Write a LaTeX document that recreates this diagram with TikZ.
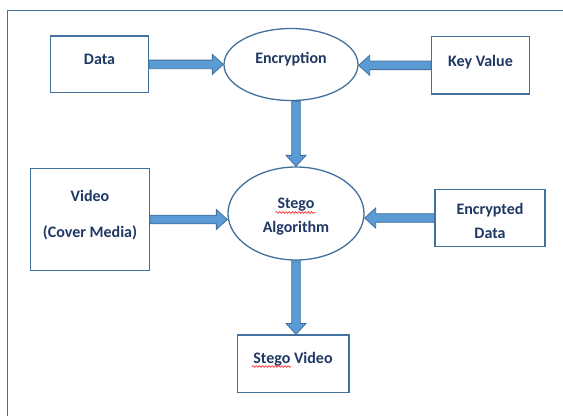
\documentclass[tikz,border=0pt]{standalone}
\usepackage{fontspec}
\setmainfont{Carlito}
\usetikzlibrary{calc,shapes.geometric,decorations.pathmorphing}

\definecolor{edgeblue}{HTML}{41719C}
\definecolor{fillblue}{HTML}{5B9BD5}
\definecolor{inkblue}{HTML}{1F3864}

% thick block arrow drawn as an outlined polygon from #1 to #2
\newcommand\blockarrow[2]{%
  \coordinate (ba-a) at (#1);
  \coordinate (ba-b) at (#2);
  \coordinate (ba-h) at ($(ba-b)!11pt!(ba-a)$);
  \draw[arrowbody]
    ($(ba-a)!4.3pt!90:(ba-b)$) -- ($(ba-h)!4.3pt!90:(ba-b)$) --
    ($(ba-h)!10pt!90:(ba-b)$) -- (ba-b) --
    ($(ba-h)!10pt!-90:(ba-b)$) -- ($(ba-h)!4.3pt!-90:(ba-b)$) --
    ($(ba-a)!4.3pt!-90:(ba-b)$) -- cycle;
}

\begin{document}
\begin{tikzpicture}[x=1pt,y=-1pt,
  txt/.style={font=\fontsize{16}{26}\selectfont\bfseries, text=inkblue, align=center, inner sep=0pt},
  box/.style={draw=edgeblue, line width=1.3pt, fill=white, inner sep=0pt},
  oval/.style={ellipse, draw=edgeblue, line width=1.3pt, fill=white, inner sep=0pt},
  arrowbody/.style={fill=fillblue, draw=edgeblue, line width=0.8pt, line join=miter},
  frame/.style={draw=edgeblue, line width=1.3pt},
  spell/.style={draw=red, line width=0.5pt, decorate, decoration={snake, amplitude=0.9pt, segment length=3.2pt}}
]
\useasboundingbox (0,0) rectangle (563,416);

% outer frame (top and left edges)
\draw[frame] (563,10.7) -- (7.3,10.7) -- (7.3,416);

% boxes and ovals
\node[box, minimum width=97.6pt, minimum height=56.7pt,
      label={[txt,yshift=5.4pt]center:Data}] (data) at (99.5,64.4) {};
\node[oval, minimum width=134pt, minimum height=72pt,
      label={[txt,yshift=5pt]center:Encryption}] (enc) at (291,64.5) {};
\node[box, minimum width=97.6pt, minimum height=57.3pt,
      label={[txt,yshift=3.5pt]center:Key Value}] (key) at (480.5,65.3) {};
\node[box, minimum width=118.6pt, minimum height=102.4pt,
      label={[txt,yshift=4.8pt]center:Video\\[10pt](Cover Media)}] (video) at (90,219.5) {};
\node[oval, minimum width=136pt, minimum height=93pt,
      label={[txt,yshift=-3.2pt]center:Stego\\[-2pt]Algorithm}] (stego) at (296,213.5) {};
\node[box, minimum width=110pt, minimum height=57.4pt,
      label={[txt,yshift=-2.5pt]center:Encrypted\\[-2pt]Data}] (encd) at (490,218) {};
\node[box, minimum width=111.7pt, minimum height=57.3pt,
      label={[txt,yshift=4.5pt]center:Stego Video}] (sv) at (293,363.7) {};

% block arrows between the shapes
\blockarrow{data.east}{enc.west |- data.east}
\blockarrow{key.west}{enc.east |- key.west}
\blockarrow{enc.south -| stego.north}{stego.north}
\blockarrow{video.east}{stego.west |- video.east}
\blockarrow{encd.west}{stego.east |- encd.west}
\blockarrow{stego.south}{stego.south |- sv.north}

% spell-check underlines
\draw[spell] (275.5,212.5) -- (315.5,212.5);
\draw[spell] (252,366.5) -- (291,366.5);
\end{tikzpicture}
\end{document}
